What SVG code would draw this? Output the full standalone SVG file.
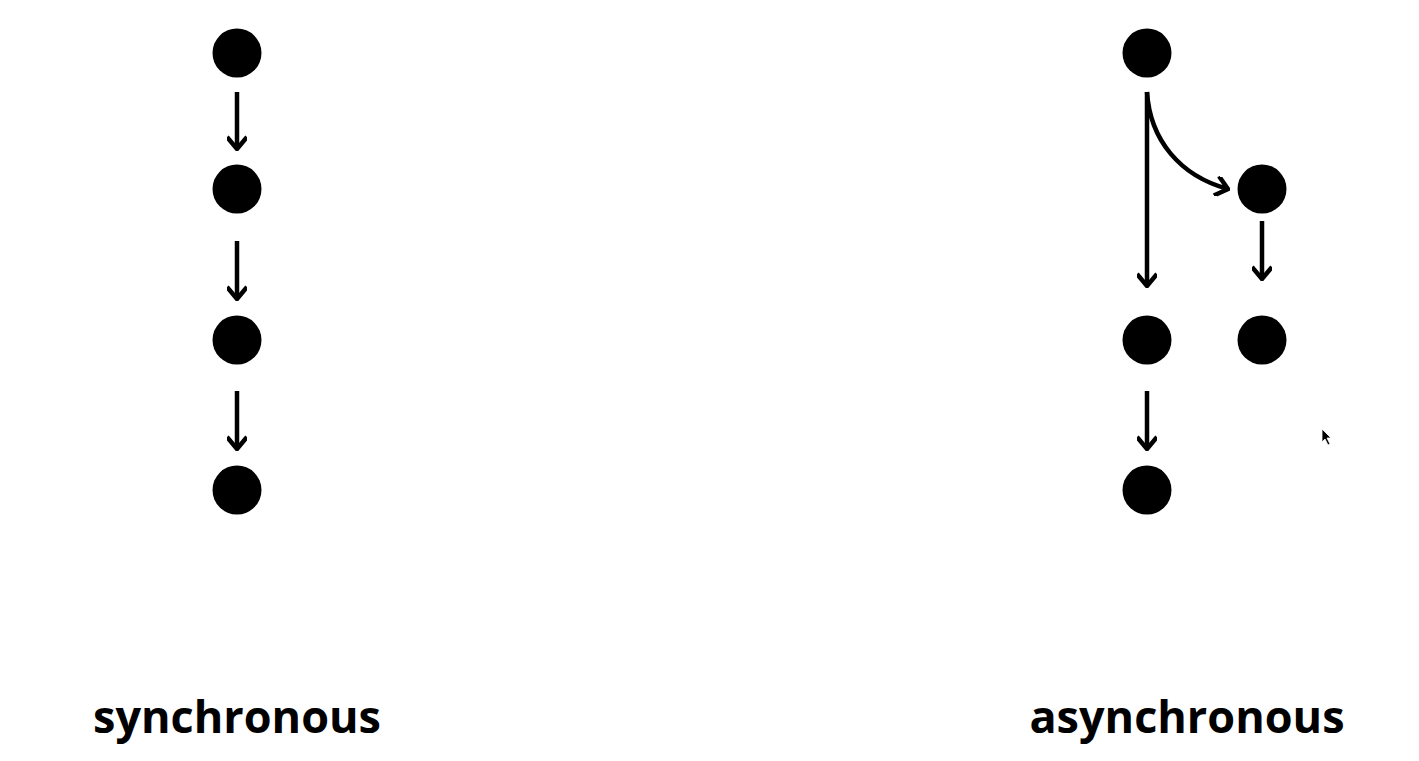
<svg xmlns="http://www.w3.org/2000/svg" width="1419" height="761" viewBox="0 0 1419 761">
<style>
.node{fill:#000}
.edge{fill:none;stroke:#000;stroke-width:4.5}
.lbl{font-family:"Open Sans","Noto Sans",sans-serif;font-weight:bold;font-size:45px;fill:#000;text-anchor:middle}
</style>
<defs>
<marker id="ah" viewBox="-14 -10 16 20" markerWidth="16" markerHeight="20" refX="0" refY="0" orient="auto" markerUnits="userSpaceOnUse">
<path d="M-12,-10 L0,0 L-12,10" fill="none" stroke="#000" stroke-width="4.5"/>
</marker>
</defs>
<rect width="1419" height="761" fill="#fff"/>
<g id="connectors">
<path class="edge" d="M237,92 L237,149" marker-end="url(#ah)"/>
<path class="edge" d="M237,241 L237,299" marker-end="url(#ah)"/>
<path class="edge" d="M237,391 L237,449" marker-end="url(#ah)"/>
<path class="edge" d="M1147,92 L1147,286" marker-end="url(#ah)"/>
<path class="edge" d="M1147,92 C1150,140 1180,176 1228,189" marker-end="url(#ah)"/>
<path class="edge" d="M1262,221 L1262,279" marker-end="url(#ah)"/>
<path class="edge" d="M1147,391 L1147,449" marker-end="url(#ah)"/>
</g>
<g id="s1"><circle class="node" cx="237" cy="53" r="24.5"/></g>
<g id="s2"><circle class="node" cx="237" cy="189" r="24.5"/></g>
<g id="s3"><circle class="node" cx="237" cy="340" r="24.5"/></g>
<g id="s4"><circle class="node" cx="237" cy="490" r="24.5"/></g>
<g id="a1"><circle class="node" cx="1147" cy="53" r="24.5"/></g>
<g id="a2"><circle class="node" cx="1262" cy="189" r="24.5"/></g>
<g id="a3"><circle class="node" cx="1147" cy="340" r="24.5"/></g>
<g id="a4"><circle class="node" cx="1262" cy="340" r="24.5"/></g>
<g id="a5"><circle class="node" cx="1147" cy="490" r="24.5"/></g>
<g id="labels">
<text class="lbl" x="237" y="733">synchronous</text>
<text class="lbl" x="1187" y="733">asynchronous</text>
</g>
<path d="M1322,429 L1322,442 L1325,439 L1328,445 L1330,444 L1327,438 L1331,438 Z" fill="#000" stroke="#fff" stroke-width="0.8"/>
</svg>
